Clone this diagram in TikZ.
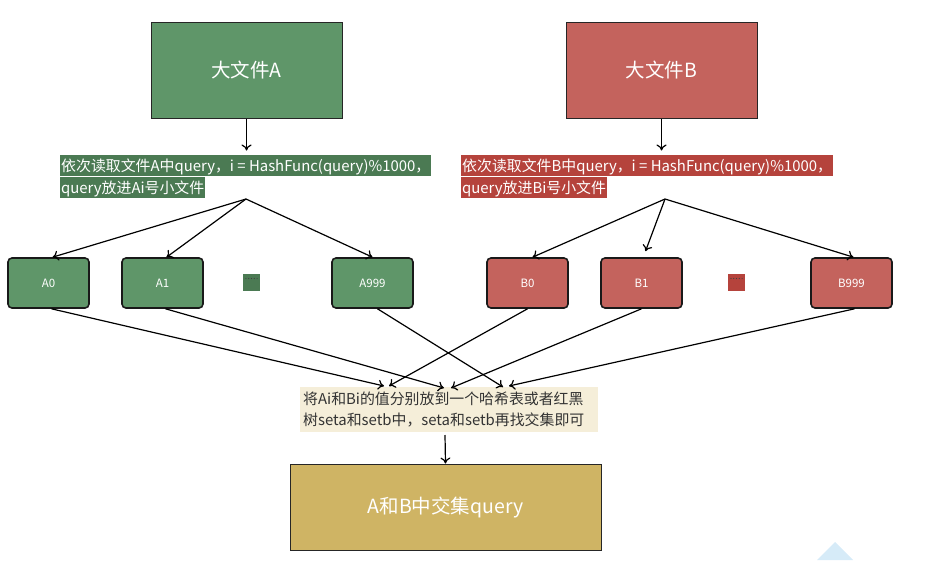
\documentclass[tikz,border=0pt]{standalone}
\usepackage{fontspec}
\setmainfont{Noto Sans CJK SC}
\usetikzlibrary{arrows.meta}
\definecolor{gA}{HTML}{5F9669}
\definecolor{gAd}{HTML}{4B7A53}
\definecolor{rB}{HTML}{C4635D}
\definecolor{rBd}{HTML}{B5433C}
\definecolor{goldc}{HTML}{CFB464}
\definecolor{beigec}{HTML}{F5EED9}
\definecolor{skyc}{HTML}{D6EBF8}
\begin{document}
\begin{tikzpicture}[x=1pt,y=-1pt,
  bigbox/.style={draw=black!85, line width=1pt, minimum width=191pt, minimum height=96pt,
    text=white, font=\fontsize{19.5}{23}\selectfont, inner sep=0pt},
  smallbox/.style={draw=black!90, line width=1.6pt, rounded corners=4pt, minimum width=81pt,
    minimum height=50pt, text=white, font=\fontsize{11.5}{13}\selectfont, inner sep=0pt},
  labline/.style={anchor=north west, inner xsep=1pt, inner ysep=0pt, text height=16pt, text depth=5pt,
    text=white, font=\fontsize{14.9}{21}\selectfont},
  dots/.style={minimum width=17pt, minimum height=17pt, inner sep=0pt},
  arr/.style={-{To[length=6pt,width=10pt]}, line width=1.2pt}
]
\useasboundingbox (0,0) rectangle (934,560);
\fill[skyc] (835,542) -- (853,560) -- (817,560) -- cycle;

% big boxes
\node[bigbox, fill=gA] (A) at (246.5,70) {大文件A};
\node[bigbox, fill=rB] (B) at (661.5,70) {大文件B};

% labels
\node[labline, fill=gAd] (la1) at (60,155) {依次读取文件A中query，i = HashFunc(query)\%1000，};
\node[labline, fill=gAd] (la2) at (60,177) {query放进Ai号小文件};
\node[labline, fill=rBd] (lb1) at (461,155) {依次读取文件B中query，i = HashFunc(query)\%1000，};
\node[labline, fill=rBd] (lb2) at (461,177) {query放进Bi号小文件};

\coordinate (fa) at (246,199);
\coordinate (fb) at (665,199);

% small boxes
\node[smallbox, fill=gA] (A0) at (48.5,283) {A0};
\node[smallbox, fill=gA] (A1) at (162.5,283) {A1};
\node[dots, fill=gAd] (da) at (251.5,282.5) {};
\node[smallbox, fill=gA] (A999) at (372.5,283) {A999};
\node[smallbox, fill=rB] (B0) at (527.5,283) {B0};
\node[smallbox, fill=rB] (B1) at (641.5,283) {B1};
\node[dots, fill=rBd] (db) at (736.5,282.5) {};
\node[smallbox, fill=rB] (B999) at (851.5,283) {B999};
\foreach \d in {da,db}{
  \foreach \k in {-2,-1,0,1,2}{
    \fill[black!75] ([xshift=\k*2.8pt, yshift=4pt]\d.center) circle (0.6pt);
  }
}

% middle label
\node[fill=beigec, anchor=north west, minimum width=296pt, minimum height=45pt, inner sep=3pt,
  align=left, text=black!80, font=\fontsize{14.9}{21}\selectfont, text width=292pt] (mid) at (300,387)
  {将Ai和Bi的值分别放到一个哈希表或者红黑\\树seta和setb中，seta和setb再找交集即可};

% result
\node[bigbox, fill=goldc, minimum width=311pt, minimum height=86pt] (R) at (445.5,507) {A和B中交集query};

% arrows
\draw[arr] (A.south) -- ++(0,32);
\draw[arr] (B.south) -- ++(0,32);
\draw[arr] (fa) -- ([xshift=4pt]A0.north);
\draw[arr] (fa) -- ([xshift=4pt]A1.north);
\draw[arr] (fa) -- (A999.north);
\draw[arr] (fb) -- ([xshift=5pt]B0.north);
\draw[arr] (fb) -- ([xshift=4pt,yshift=6pt]B1.north);
\draw[arr] (fb) -- ([xshift=2pt]B999.north);

\coordinate (t1) at (384,386);
\coordinate (t2) at (444,388);
\coordinate (t3) at (503,387);
\coordinate (t4) at (389,386);
\coordinate (t5) at (451,388);
\coordinate (t6) at (509,386);
\draw[arr] ([xshift=3pt]A0.south) -- (t1);
\draw[arr] ([xshift=3pt]A1.south) -- (t2);
\draw[arr] ([xshift=5pt]A999.south) -- (t3);
\draw[arr] (B0.south) -- (t4);
\draw[arr] (B1.south) -- (t5);
\draw[arr] ([xshift=3pt]B999.south) -- (t6);
\draw[arr] (445,435) -- (R.north);
\end{tikzpicture}
\end{document}
